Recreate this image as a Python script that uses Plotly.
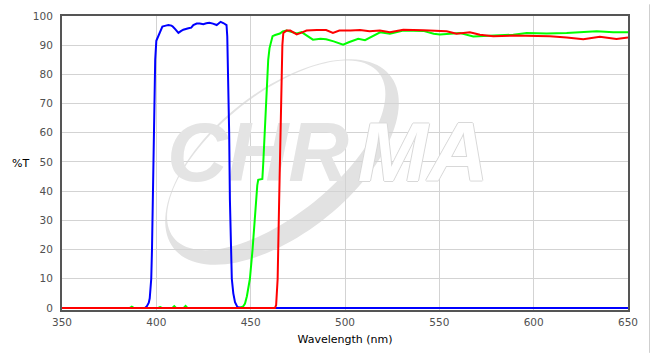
import numpy as np
import plotly.graph_objects as go

# ---------------- data ----------------
blue_nm = [350, 394, 395, 396, 396.5, 397, 397.3, 397.7, 398.2, 398.8, 399.4, 400,
           401, 402, 403.2, 405, 406.4, 408, 408.7, 410, 411.7, 413, 414.3, 417,
           418.5, 419.6, 421.4, 423, 424.9, 426.5, 428.1, 430, 432, 433, 434.1,
           435.5, 437.2, 437.6, 438.1, 438.6, 439.0, 439.6, 440.0, 440.8, 441.7,
           443, 445, 650]
blue_t = [0, 0, 0.6, 1.8, 3.3, 6.7, 10, 20, 45, 70, 85, 91.5,
          93, 94.5, 96.4, 96.7, 96.9, 96.7, 96.4, 95.5, 94.2, 94.8, 95.3, 95.8,
          96.0, 96.9, 97.4, 97.4, 97.2, 97.5, 97.7, 97.4, 96.9, 97.4, 98.0,
          97.6, 96.9, 93, 80, 60, 37, 17, 10, 5, 2,
          0.3, 0, 0]

green_nm = [350, 386, 387, 388, 401, 402, 403, 408.5, 409.5, 410.5, 414.5, 415.5,
            416.5, 444, 446, 447, 448, 449, 449.6, 451, 452, 452.8, 453.5, 454,
            456.2, 456.7, 457.6, 458.2, 458.8, 459.3, 460, 461, 461.6, 463, 465.5,
            467, 469, 471, 474.4, 477, 480, 483, 487, 490, 494, 499, 502, 507,
            510.6, 514, 518.6, 523.8, 530.9, 541.5, 547, 550.3, 553.9, 561, 568,
            571.5, 578.6, 589.2, 596.3, 606.9, 617.5, 633.4, 642.2, 650]
green_t = [0, 0, 0.4, 0, 0, 0.3, 0, 0, 0.6, 0, 0, 0.7,
           0, 0, 0.5, 1.5, 4, 7, 10, 20, 30, 37, 42, 43.9,
           44.2, 50, 61, 72, 80, 85, 89, 92, 93.1, 93.5, 94,
           94.7, 95, 94.7, 94, 94.5, 93.2, 91.9, 92.2, 92, 91.3, 90.2, 91, 92.2,
           91.7, 92.8, 94.4, 93.9, 95, 94.9, 93.9, 93.7, 93.9, 94.2, 93,
           93.1, 93.3, 93.6, 94.2, 94, 94.2, 94.8, 94.4, 94.4]

red_nm = [350, 462.9, 463.5, 464.3, 465.1, 465.6, 466.0, 466.4, 466.8, 467.3, 469,
          471, 474.4, 477, 479.6, 485, 490, 493.6, 497, 503, 508, 513, 518.5,
          523.8, 530.9, 541.5, 550.3, 553.9, 559.1, 566.2, 571.5, 578.6, 589.2,
          599.8, 608.6, 617.5, 626.3, 635.1, 643.9, 650]
red_t = [0, 0, 1, 10, 37, 55, 70, 83.3, 90, 94.2, 95,
         95, 93.7, 94.3, 95, 95.2, 95.2, 94.2, 95, 95, 95.2, 94.8, 95,
         94.4, 95.3, 95.1, 95, 94.8, 93.9, 94.4, 93.6, 93.1, 93.3,
         93.1, 93.1, 92.6, 92, 92.9, 92.1, 92.6]

x_ticks = [350, 400, 450, 500, 550, 600, 650]
y_ticks = [0, 10, 20, 30, 40, 50, 60, 70, 80, 90, 100]

# ---------------- figure ----------------
W, H = 652, 354
ML, MR, MT, MB = 62, 24, 10, 42
X0, X1 = 350, 650
Y0, Y1 = -0.7, 100
pw, ph = W - ML - MR, H - MT - MB


def px_to_data(px, py):
    return X0 + (px - ML) * (X1 - X0) / pw, Y1 - (py - MT) * (Y1 - Y0) / ph


fig = go.Figure()

# watermark text (drawn first so the curves sit on top of it)
wm_font = dict(family="Liberation Sans", size=84, style="italic", weight="bold")
cx1, cy1 = px_to_data(258, 158)
cx2, cy2 = px_to_data(423, 158)
fig.add_trace(go.Scatter(x=[cx1], y=[cy1], mode="text", text=["CHR"],
                         textposition="middle center",
                         textfont=dict(color="#e4e4e4", **wm_font),
                         hoverinfo="skip", showlegend=False))
fig.add_trace(go.Scatter(x=[cx2], y=[cy2], mode="text", text=["MA"],
                         textposition="middle center",
                         textfont=dict(color="#ffffff",
                                       shadow="1px 0 0 #d8d8d8, -1px 0 0 #d8d8d8, 0 1px 0 #d8d8d8, 0 -1px 0 #d8d8d8",
                                       **wm_font),
                         hoverinfo="skip", showlegend=False))

fig.add_trace(go.Scatter(x=green_nm, y=green_t, mode="lines",
                         line=dict(color="#00ff00", width=2), showlegend=False))
fig.add_trace(go.Scatter(x=blue_nm, y=blue_t, mode="lines",
                         line=dict(color="#0000ff", width=2), showlegend=False))
fig.add_trace(go.Scatter(x=red_nm, y=red_t, mode="lines",
                         line=dict(color="#ff0000", width=2), showlegend=False))

# swoosh of the watermark logo (tilted crescent)
ang = np.deg2rad(40)
u = np.array([np.cos(ang), -np.sin(ang)])
v = np.array([-np.sin(ang), -np.cos(ang)])
c = np.array([282.0, 160.0])
t = np.linspace(0, 2 * np.pi, 120)
outer = c[None, :] + np.outer(140 * np.cos(t), u) + np.outer(72 * np.sin(t), v)
ci = c + 9 * v
inner = ci[None, :] + np.outer(133 * np.cos(t[::-1]), u) + np.outer(61 * np.sin(t[::-1]), v)


def ring_path(pts):
    seg = []
    for i, (px, py) in enumerate(pts):
        dx, dy = px_to_data(px, py)
        seg.append(("M" if i == 0 else "L") + f"{dx:.3f},{dy:.3f}")
    return " ".join(seg) + " Z"


fig.add_shape(type="path", path=ring_path(outer) + " " + ring_path(inner),
              xref="x", yref="y", fillcolor="#e2e2e2", fillrule="evenodd",
              line=dict(width=0), layer="below")

# light border at the right edge of the picture
fig.add_shape(type="line", xref="paper", yref="paper",
              x0=(649.5 - ML) / pw, x1=(649.5 - ML) / pw,
              y0=-(MB + 2) / ph, y1=1 + (MT + 2) / ph,
              line=dict(color="#cfcfcf", width=1))

tick_font = dict(family="DejaVu Sans", size=10.5, color="#505050")
fig.update_xaxes(range=[X0, X1], tickvals=x_ticks, ticks="", showgrid=True,
                 gridcolor="#d3d3d3", gridwidth=1, zeroline=False,
                 showline=True, linecolor="#555555", linewidth=2, mirror=True,
                 tickfont=tick_font, ticklabelstandoff=1,
                 title=dict(text="Wavelength (nm)",
                            font=dict(family="DejaVu Sans", size=11, color="#000000"),
                            standoff=9))
fig.update_yaxes(range=[Y0, Y1], tickvals=y_ticks, ticks="", showgrid=True,
                 gridcolor="#d3d3d3", gridwidth=1, zeroline=False,
                 showline=True, linecolor="#555555", linewidth=2, mirror=True,
                 tickfont=tick_font, ticklabelstandoff=5)

fig.add_annotation(text="%T", xref="paper", yref="paper",
                   x=-(ML - 20) / pw, y=0.5, xanchor="center", yanchor="middle",
                   showarrow=False,
                   font=dict(family="DejaVu Sans", size=11, color="#000000"))

fig.update_layout(width=W, height=H, margin=dict(l=ML, r=MR, t=MT, b=MB),
                  paper_bgcolor="#ffffff", plot_bgcolor="#ffffff",
                  showlegend=False)

fig.write_html("out.html")
